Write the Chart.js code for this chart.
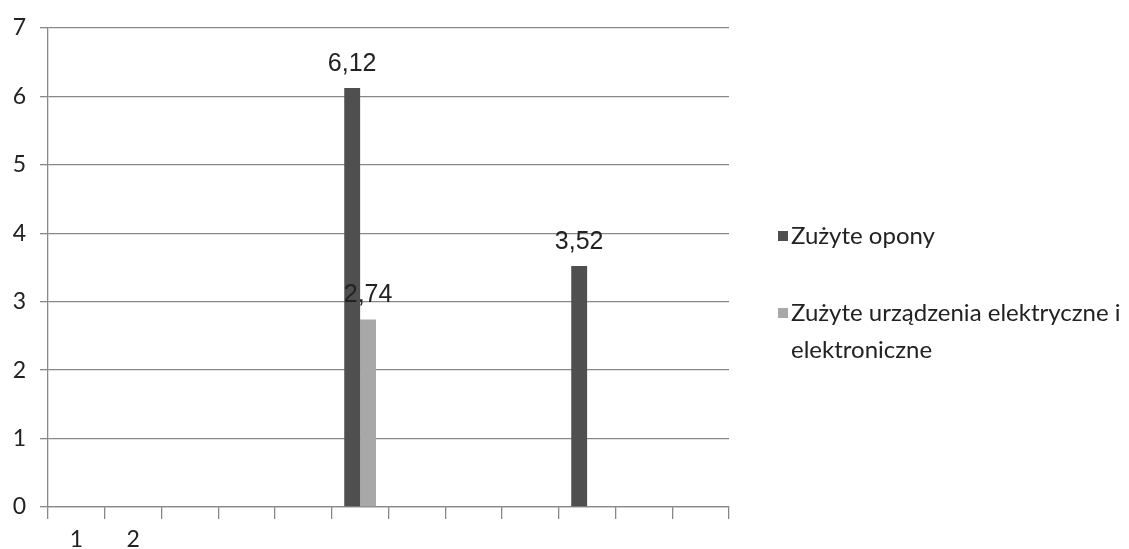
<!DOCTYPE html>
<html>
<head>
<meta charset="utf-8">
<script src="https://cdn.jsdelivr.net/npm/chart.js@4/dist/chart.umd.min.js"></script>
<style>
  html, body { margin: 0; padding: 0; background: #fff; }
  #wrap { width: 1129px; height: 549px; position: relative; }
</style>
</head>
<body>
<div id="wrap"><canvas id="chart"></canvas></div>
<script>
// categories (only the first two carry a visible label)
const categories = ['1', '2', '', '', '', '', '', '', '', '', '', ''];
// series values
const oponyValues = [null, null, null, null, null, 6.12, null, null, null, 3.52, null, null];
const elektroValues = [null, null, null, null, null, 2.74, null, null, null, null, null, null];
const seriesNames = [['Zużyte opony'], ['Zużyte urządzenia elektryczne i', 'elektroniczne']];
const yTicks = [0, 1, 2, 3, 4, 5, 6, 7];

const DARK = '#4f4f4f';
const LIGHT = '#a8a8a8';
const GRID = '#888888';

// numbers above the bars, with a decimal comma
const valueLabels = {
    id: 'valueLabels',
    afterDatasetsDraw(chart) {
        const ctx = chart.ctx;
        ctx.save();
        ctx.font = '25px "Liberation Sans", Arial, sans-serif';
        ctx.fillStyle = '#222';
        ctx.textAlign = 'center';
        ctx.textBaseline = 'alphabetic';
        chart.data.datasets.forEach((ds, i) => {
            const meta = chart.getDatasetMeta(i);
            meta.data.forEach((bar, j) => {
                const v = ds.data[j];
                if(v == null) return;
                ctx.fillText(v.toFixed(2).replace('.', ','), bar.x, bar.y - 17);
            });
        });
        ctx.restore();
    }
};

// legend on the right, with the long name wrapped over two lines
const sideLegend = {
    id: 'sideLegend',
    afterDraw(chart) {
        const ctx = chart.ctx;
        const x = 778;
        const rows = [236, 313];
        const lineH = 37;
        ctx.save();
        ctx.font = '24px Lato, "Open Sans", sans-serif';
        ctx.textBaseline = 'middle';
        ctx.textAlign = 'left';
        chart.data.datasets.forEach((ds, i) => {
            const y = rows[i];
            ctx.fillStyle = ds.backgroundColor;
            ctx.fillRect(x, y - 5, 10, 10);
            ctx.fillStyle = '#222';
            seriesNames[i].forEach((line, k) => {
                ctx.fillText(line, x + 13, y + k * lineH);
            });
        });
        ctx.restore();
    }
};

new Chart(document.getElementById('chart'), {
    type: 'bar',
    data: {
        labels: categories,
        datasets: [
            { label: seriesNames[0].join(' '), data: oponyValues, backgroundColor: DARK },
            { label: seriesNames[1].join(' '), data: elektroValues, backgroundColor: LIGHT }
        ]
    },
    options: {
        responsive: true,
        maintainAspectRatio: false,
        animation: false,
        layout: { padding: { top: 8, right: 400, left: 0, bottom: 0 } },
        datasets: { bar: { categoryPercentage: 0.56, barPercentage: 1 } },
        plugins: {
            legend: { display: false },
            tooltip: { enabled: false }
        },
        scales: {
            x: {
                grid: { offset: true, drawOnChartArea: false, drawTicks: true, tickLength: 12, color: GRID, lineWidth: 1.3 },
                border: { color: GRID, width: 1.3 },
                ticks: {
                    autoSkip: false, maxRotation: 0, padding: 7, color: '#222',
                    font: { family: 'Lato, "Open Sans", sans-serif', size: 23 }
                },
                afterFit: (s) => { s.height = 42; }
            },
            y: {
                min: 0, max: 7,
                afterBuildTicks: (s) => { s.ticks = yTicks.map(v => ({ value: v })); },
                grid: { color: GRID, lineWidth: 1.3, tickLength: 8 },
                border: { color: GRID, width: 1.3 },
                ticks: {
                    padding: 14, color: '#222',
                    font: { family: 'Lato, "Open Sans", sans-serif', size: 23 }
                },
                afterFit: (s) => { s.width = 48; }
            }
        }
    },
    plugins: [valueLabels, sideLegend]
});
</script>
</body>
</html>
